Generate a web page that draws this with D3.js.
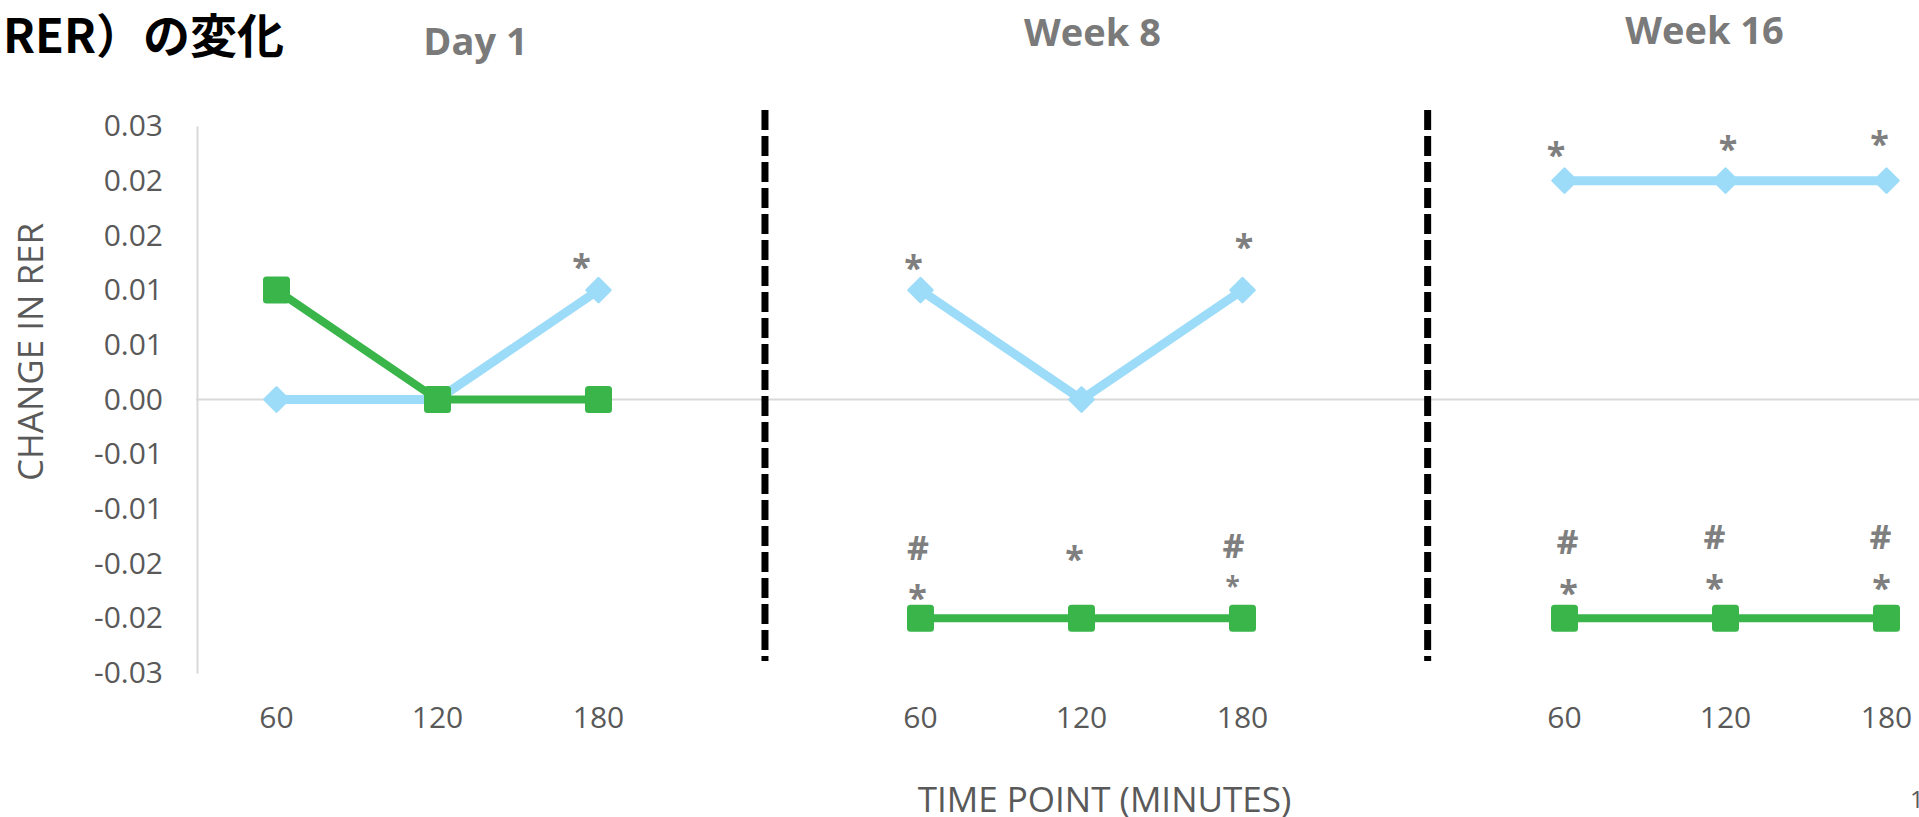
<!DOCTYPE html>
<html>
<head>
<meta charset="utf-8">
<script src="https://cdn.jsdelivr.net/npm/d3@7"></script>
<style>
  html, body { margin: 0; padding: 0; background: #fff; overflow: hidden; }
  svg { display: block; font-family: "Open Sans", "Noto Sans", sans-serif; }
</style>
</head>
<body>
<svg id="chart" width="1919" height="817"></svg>
<script>
// ---- data ----
const panels = ['Day 1', 'Week 8', 'Week 16'];
const timePoints = ['60', '120', '180'];
const blueSeries = [[0, 0, 0.01], [0.01, 0, 0.01], [0.02, 0.02, 0.02]];
const greenSeries = [[0.01, 0, 0], [-0.02, -0.02, -0.02], [-0.02, -0.02, -0.02]];
const yTickValues = [0.025, 0.02, 0.015, 0.01, 0.005, 0, -0.005, -0.01, -0.015, -0.02, -0.025];
const yTickLabels = ['0.03', '0.02', '0.02', '0.01', '0.01', '0.00', '-0.01', '-0.01', '-0.02', '-0.02', '-0.03'];
// significance marks above each point (top to bottom)
const blueMarks = [[[], [], ['*']], [['*'], [], ['*']], [['*'], ['*'], ['*']]];
const greenMarks = [[[], [], []], [['#', '*'], ['*'], ['#', '*']], [['#', '*'], ['#', '*'], ['#', '*']]];
const chartTitle = 'RER）の変化';
const yTitle = 'CHANGE IN RER';
const xTitle = 'TIME POINT (MINUTES)';

// ---- layout ----
const svg = d3.select('#chart');
const grey = '#595959';
const markGrey = '#7f7f7f';
const blue = '#9ddcf9';
const green = '#39b54a';

// one band per time point, with an empty band between the panels
const slots = [];
panels.forEach((p, pi) => {
  if (pi > 0) slots.push('gap' + pi);
  timePoints.forEach(t => slots.push(p + '|' + t));
});

const x = d3.scaleBand().domain(slots).range([196, 1967]).padding(0);
const cx = (pi, ti) => x(panels[pi] + '|' + timePoints[ti]) + x.bandwidth() / 2;
const y = d3.scaleLinear().domain([-0.025, 0.025]).range([673, 126]);

// zero line (horizontal axis)
svg.append('line')
  .attr('x1', x.range()[0]).attr('x2', 1919)
  .attr('y1', y(0)).attr('y2', y(0))
  .attr('stroke', '#d9d9d9').attr('stroke-width', 2);

// y axis
svg.append('g')
  .attr('transform', 'translate(' + (x.range()[0] + 1) + ',0)')
  .call(d3.axisLeft(y)
    .tickValues(yTickValues)
    .tickFormat((d, i) => yTickLabels[i])
    .tickSize(0).tickSizeOuter(0).tickPadding(34))
  .attr('font-family', '"Open Sans", sans-serif')
  .attr('font-size', 30)
  .call(g => g.select('.domain').attr('stroke', '#d9d9d9').attr('stroke-width', 2))
  .call(g => g.selectAll('text').attr('fill', grey));

// x axis labels along the bottom
svg.append('g')
  .attr('transform', 'translate(0,' + y(-0.025) + ')')
  .call(d3.axisBottom(x)
    .tickFormat(d => d.startsWith('gap') ? '' : d.split('|')[1])
    .tickSize(0).tickPadding(34))
  .attr('font-family', '"Open Sans", sans-serif')
  .attr('font-size', 30)
  .call(g => g.select('.domain').remove())
  .call(g => g.selectAll('text').attr('fill', grey));

// dashed separators between panels (fraction of the way between neighbouring points)
const sepFractions = [0.517, 0.575];
sepFractions.forEach((f, i) => {
  const xa = cx(i, 2);
  const xb = cx(i + 1, 0);
  const sx = xa + (xb - xa) * f;
  svg.append('line')
    .attr('x1', sx).attr('x2', sx)
    .attr('y1', y(0.025) - 16).attr('y2', y(-0.025) - 12)
    .attr('stroke', '#000').attr('stroke-width', 7)
    .attr('stroke-dasharray', '20,6');
});

// lines
const line = d3.line();
const seriesDefs = [
  { values: blueSeries, color: blue, width: 9 },
  { values: greenSeries, color: green, width: 8 }
];
seriesDefs.forEach(s => {
  s.values.forEach((vals, pi) => {
    svg.append('path')
      .datum(vals.map((v, ti) => [cx(pi, ti), y(v)]))
      .attr('d', line)
      .attr('fill', 'none')
      .attr('stroke', s.color)
      .attr('stroke-width', s.width)
      .attr('stroke-linejoin', 'round');
  });
});

// markers: blue diamonds, green squares
blueSeries.forEach((vals, pi) => {
  svg.append('g').selectAll('path')
    .data(vals)
    .enter()
    .append('path')
    .attr('transform', (v, ti) => 'translate(' + cx(pi, ti) + ',' + y(v) + ')')
    .attr('d', 'M0,-12L12,0L0,12L-12,0Z')
    .attr('fill', blue)
    .attr('stroke', blue)
    .attr('stroke-width', 2.5)
    .attr('stroke-linejoin', 'round');
});
greenSeries.forEach((vals, pi) => {
  svg.append('g').selectAll('rect')
    .data(vals)
    .enter()
    .append('rect')
    .attr('x', (v, ti) => cx(pi, ti) - 13.5)
    .attr('y', v => y(v) - 13.5)
    .attr('width', 27)
    .attr('height', 27)
    .attr('rx', 3.5)
    .attr('fill', green);
});

// nudges for the marks, in pixels from the point
const blueNudge = [
  [[], [], [[-17, -30.5]]],
  [[[-7, -30]], [], [[1.5, -50.5]]],
  [[[-8.5, -33.5]], [[2.5, -39.5]], [[-7, -44]]]
];
const greenNudge = [
  [[], [], []],
  [[[-2.5, -70.5], [-3, -28]], [[-7, -67]], [[-9, -73], [-10, -37, 26]]],
  [[[3, -76.5], [4, -33.5]], [[-11, -82], [-11, -38]], [[-6, -82], [-5, -38]]]
];

function drawMarks(marks, nudge, values) {
  marks.forEach((panelMarks, pi) => {
    panelMarks.forEach((list, ti) => {
      list.forEach((m, k) => {
        const n = nudge[pi][ti][k];
        const fs = n[2] || 34;
        const mx = cx(pi, ti) + n[0];
        const my = y(values[pi][ti]) + n[1];
        svg.append('text')
          .attr('x', mx)
          .attr('y', my + (m === '*' ? 0.58 : 0.36) * fs)
          .attr('text-anchor', 'middle')
          .attr('font-family', '"Open Sans", sans-serif')
          .attr('font-weight', 700)
          .attr('font-size', fs)
          .attr('fill', markGrey)
          .text(m);
      });
    });
  });
}
drawMarks(blueMarks, blueNudge, blueSeries);
drawMarks(greenMarks, greenNudge, greenSeries);

// panel titles
const titleNudge = [[38, 55], [11, 46], [-21, 44]];
panels.forEach((p, pi) => {
  svg.append('text')
    .attr('x', cx(pi, 1) + titleNudge[pi][0])
    .attr('y', titleNudge[pi][1])
    .attr('text-anchor', 'middle')
    .attr('font-family', '"Open Sans", sans-serif')
    .attr('font-weight', 700)
    .attr('font-size', 38)
    .attr('fill', '#7a7a7a')
    .text(p);
});

// slide title fragment
svg.append('text')
  .attr('x', 284).attr('y', 53)
  .attr('text-anchor', 'end')
  .attr('font-family', '"Noto Sans CJK JP", sans-serif')
  .attr('font-weight', 700)
  .attr('font-size', 47)
  .attr('fill', '#000')
  .text(chartTitle);

// axis titles
svg.append('text')
  .attr('transform', 'translate(43,352) rotate(-90)')
  .attr('text-anchor', 'middle')
  .attr('font-family', '"Open Sans", sans-serif')
  .attr('font-size', 35)
  .attr('fill', grey)
  .text(yTitle);

svg.append('text')
  .attr('x', cx(1, 1) + 23).attr('y', 812)
  .attr('text-anchor', 'middle')
  .attr('font-family', '"Open Sans", sans-serif')
  .attr('font-size', 35)
  .attr('fill', grey)
  .text(xTitle);

// page number peeking in at the corner
svg.append('text')
  .attr('x', 1910).attr('y', 808)
  .attr('font-family', '"Open Sans", sans-serif')
  .attr('font-size', 24)
  .attr('fill', grey)
  .text('1');
</script>
</body>
</html>
